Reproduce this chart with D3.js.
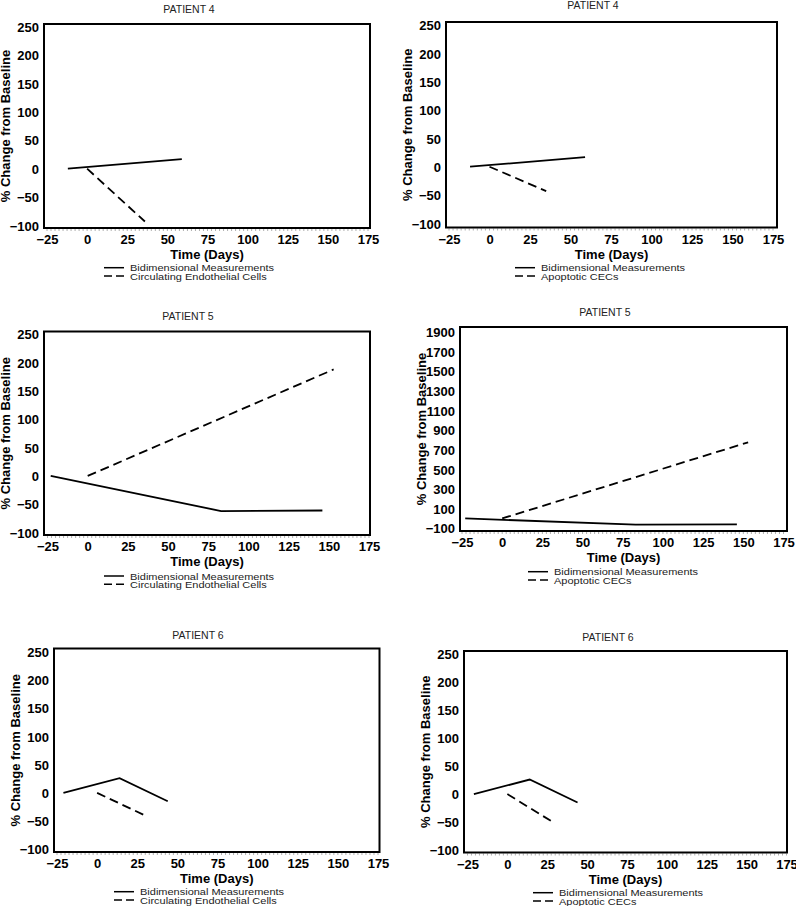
<!DOCTYPE html>
<html>
<head>
<meta charset="utf-8">
<script src="https://cdn.jsdelivr.net/npm/d3@7"></script>
<style>
  html, body { margin: 0; padding: 0; background: #fff; }
  svg { display: block; }
  text { font-family: "Liberation Sans", Arial, sans-serif; }
</style>
</head>
<body>
<svg id="chart" width="796" height="906"></svg>
<script>
// ---------- data ----------
const xTickValues = [-25, 0, 25, 50, 75, 100, 125, 150, 175];
const yTickValuesStd = [-100, -50, 0, 50, 100, 150, 200, 250];
const yTickValuesWide = [-100, 100, 300, 500, 700, 900, 1100, 1300, 1500, 1700, 1900];

const panelTitles = ["PATIENT 4", "PATIENT 4", "PATIENT 5", "PATIENT 5", "PATIENT 6", "PATIENT 6"];
const solidLabel = "Bidimensional Measurements";
const dashedLabels = ["Circulating Endothelial Cells", "Apoptotic CECs",
                      "Circulating Endothelial Cells", "Apoptotic CECs",
                      "Circulating Endothelial Cells", "Apoptotic CECs"];

// Bidimensional measurements (solid)
const bidim4Days = [-12, 59];
const bidim4Pct  = [0, 17];
const bidim5Days = [-23, 83, 146];
const bidim5Pct  = [0, -62, -61];
const bidim6Days = [-21, 14, 44];
const bidim6Pct  = [0, 26, -15];

// Circulating endothelial cells (dashed, left column)
const cec4Days = [0, 36];
const cec4Pct  = [0, -93];
const cec5Days = [0, 153];
const cec5Pct  = [0, 188];
const cec6Days = [0, 29];
const cec6Pct  = [0, -39];

// Apoptotic CECs (dashed, right column)
const apop4Days = [0, 35];
const apop4Pct  = [0, -43];
const apop5Days = [0, 153];
const apop5Pct  = [0, 775];
const apop6Days = [0, 29];
const apop6Pct  = [0, -51];

const zip = (xs, ys) => xs.map((x, i) => ({ day: x, pct: ys[i] }));

const panelSeries = [
  { solid: zip(bidim4Days, bidim4Pct), dashed: zip(cec4Days, cec4Pct), yTicks: yTickValuesStd },
  { solid: zip(bidim4Days, bidim4Pct), dashed: zip(apop4Days, apop4Pct), yTicks: yTickValuesStd },
  { solid: zip(bidim5Days, bidim5Pct), dashed: zip(cec5Days, cec5Pct), yTicks: yTickValuesStd },
  { solid: zip(bidim5Days, bidim5Pct), dashed: zip(apop5Days, apop5Pct), yTicks: yTickValuesWide },
  { solid: zip(bidim6Days, bidim6Pct), dashed: zip(cec6Days, cec6Pct), yTicks: yTickValuesStd },
  { solid: zip(bidim6Days, bidim6Pct), dashed: zip(apop6Days, apop6Pct), yTicks: yTickValuesStd }
];

// ---------- layout ----------
const layouts = [
  { l: 44,  t: 24,    r: 370,   b: 228,   xr: [47, 368],    yr: [225.5, 26.7], tx: 189, ty: 13,    lx: 104, ly: 267.7 },
  { l: 446, t: 22,    r: 777,   b: 227.5, xr: [449, 773],   yr: [223.4, 25],   tx: 593, ty: 9,     lx: 515, ly: 267.7 },
  { l: 44,  t: 331.5, r: 370,   b: 535,   xr: [47.5, 369],  yr: [532.6, 334.3], tx: 188, ty: 320,  lx: 104, ly: 576 },
  { l: 460, t: 327,   r: 787,   b: 531,   xr: [462, 783.5], yr: [528.3, 331.7], tx: 605, ty: 315.5, lx: 528, ly: 571.7 },
  { l: 54,  t: 648.5, r: 379.5, b: 852,   xr: [57, 378],    yr: [849.3, 651.7], tx: 198, ty: 639,  lx: 114, ly: 891.7 },
  { l: 464, t: 651,   r: 787,   b: 852.5, xr: [467.5, 786.5], yr: [850, 654.3], tx: 608, ty: 640.5, lx: 533, ly: 892.7 }
];

const svg = d3.select("#chart");

panelSeries.forEach((ps, i) => {
  const L = layouts[i];
  const yDom = d3.extent(ps.yTicks);
  const x = d3.scaleLinear().domain([-25, 175]).range(L.xr);
  const y = d3.scaleLinear().domain(yDom).range(L.yr);
  const g = svg.append("g");

  // title
  g.append("text")
    .attr("x", L.tx).attr("y", L.ty)
    .attr("text-anchor", "middle")
    .attr("font-size", 10.5)
    .attr("fill", "#222")
    .text(panelTitles[i]);

  // minor ticks along the x axis
  const minor = d3.range(-25, 175.01, 2.5);
  g.append("g").selectAll("line").data(minor).join("line")
    .attr("x1", d => x(d)).attr("x2", d => x(d))
    .attr("y1", L.b + 1).attr("y2", L.b + 3)
    .attr("stroke", "#9a9a9a").attr("stroke-width", 0.8);

  // x axis labels via d3 axis
  const xAxis = d3.axisBottom(x).tickValues(xTickValues).tickSize(0).tickPadding(0).tickFormat(d3.format("d"));
  const xg = g.append("g").attr("transform", `translate(0,${L.b})`).call(xAxis);
  xg.select(".domain").remove();
  xg.selectAll("text")
    .attr("dy", null).attr("y", 16.2)
    .attr("font-family", "'Liberation Sans', Arial, sans-serif")
    .attr("font-size", 13).attr("font-weight", "bold").attr("fill", "#000");

  // y axis labels
  const yAxis = d3.axisLeft(y).tickValues(ps.yTicks).tickSize(0).tickPadding(0).tickFormat(d3.format("d"));
  const yg = g.append("g").attr("transform", `translate(${L.l - 5},0)`).call(yAxis);
  yg.select(".domain").remove();
  yg.selectAll("text")
    .attr("dy", "0.36em").attr("x", 0)
    .attr("font-family", "'Liberation Sans', Arial, sans-serif")
    .attr("font-size", 13).attr("font-weight", "bold").attr("fill", "#000");

  // axis titles
  g.append("text")
    .attr("x", (L.l + L.r) / 2).attr("y", L.b + 31.2)
    .attr("text-anchor", "middle")
    .attr("font-size", 13).attr("font-weight", "bold")
    .text("Time (Days)");
  g.append("text")
    .attr("transform", `translate(${L.l - 34},${(L.t + L.b) / 2}) rotate(-90)`)
    .attr("text-anchor", "middle")
    .attr("font-size", 13).attr("font-weight", "bold")
    .text("% Change from Baseline");

  // series lines
  const line = d3.line().x(d => x(d.day)).y(d => y(d.pct));
  g.append("path").datum(ps.solid)
    .attr("d", line).attr("fill", "none")
    .attr("stroke", "#000").attr("stroke-width", 1.8);
  g.append("path").datum(ps.dashed)
    .attr("d", line).attr("fill", "none")
    .attr("stroke", "#000").attr("stroke-width", 1.8)
    .attr("stroke-dasharray", "9,5");

  // frame
  g.append("rect")
    .attr("x", L.l).attr("y", L.t)
    .attr("width", L.r - L.l).attr("height", L.b - L.t)
    .attr("fill", "none").attr("stroke", "#000").attr("stroke-width", 2);

  // legend
  const lg = g.append("g");
  lg.append("line")
    .attr("x1", L.lx).attr("x2", L.lx + 20)
    .attr("y1", L.ly).attr("y2", L.ly)
    .attr("stroke", "#000").attr("stroke-width", 1.5);
  lg.append("line")
    .attr("x1", L.lx).attr("x2", L.lx + 20)
    .attr("y1", L.ly + 8.3).attr("y2", L.ly + 8.3)
    .attr("stroke", "#000").attr("stroke-width", 1.5)
    .attr("stroke-dasharray", "8,4");
  lg.append("text")
    .attr("transform", `translate(${L.lx + 26},${L.ly + 3.6}) scale(1,0.82)`)
    .attr("font-size", 11).attr("fill", "#222")
    .text(solidLabel);
  lg.append("text")
    .attr("transform", `translate(${L.lx + 26},${L.ly + 12.3}) scale(1,0.82)`)
    .attr("font-size", 11).attr("fill", "#222")
    .text(dashedLabels[i]);
});
</script>
</body>
</html>
